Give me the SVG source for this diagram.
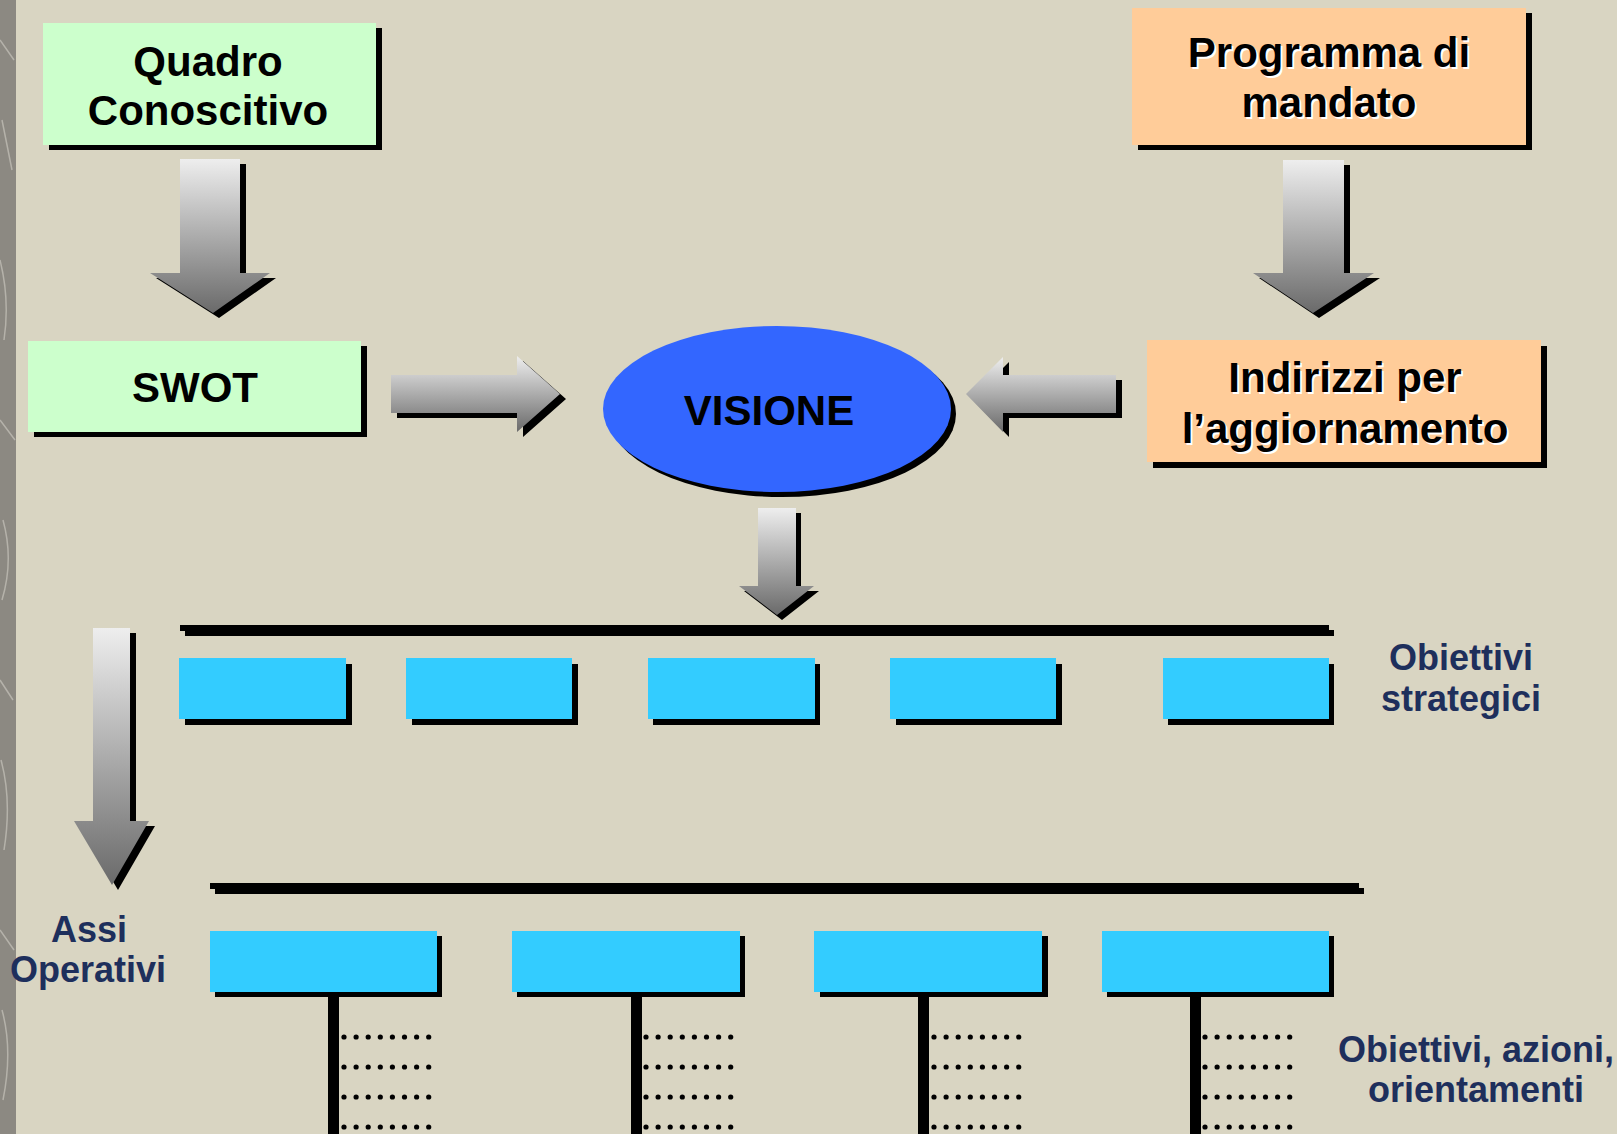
<svg xmlns="http://www.w3.org/2000/svg" xmlns:xlink="http://www.w3.org/1999/xlink" width="1617" height="1134" viewBox="0 0 1617 1134">
<style>
.bg{fill:#D9D5C2}
.sh{fill:#000}
.green{fill:#CCFFCC}
.orange{fill:#FFCC99}
.cyan{fill:#33CCFF}
.arr{fill:url(#g)}
.t{font-family:"Liberation Sans",Arial,sans-serif;font-weight:bold;text-anchor:middle}
.blk{fill:#000;font-size:42px}
.wht{fill:#fff;font-size:42px}
.navy{fill:#1E2F5C;font-size:36px}
.dot{fill:#000}
</style>
<defs>
<linearGradient id="g" x1="0" y1="0" x2="0" y2="1">
<stop offset="0" stop-color="#EEEEEE"/>
<stop offset="1" stop-color="#6A6A6A"/>
</linearGradient>
<path id="ad1" d="M180 159 H240 V273 H270 L213 313 L150 273 H180 Z"/>
<path id="ad2" d="M1283 160 H1344 V273 H1374 L1313 313 L1253 273 H1283 Z"/>
<path id="ar" d="M391 375 H517 V356 L560 394 L517 432 V413 H391 Z"/>
<path id="al" d="M1116 375 H1003 V357 L966 394 L1003 432 V413 H1116 Z"/>
<path id="ad3" d="M758 508 H796 V586 H814 L777 615 L739 586 H758 Z"/>
<path id="ad4" d="M93 628 H130 V821 H149 L112 885 L74 821 H93 Z"/>
<g id="dots">
<circle cx="0" cy="0" r="2.6"/><circle cx="12.1" cy="0" r="2.6"/><circle cx="24.2" cy="0" r="2.6"/><circle cx="36.3" cy="0" r="2.6"/><circle cx="48.4" cy="0" r="2.6"/><circle cx="60.5" cy="0" r="2.6"/><circle cx="72.6" cy="0" r="2.6"/><circle cx="84.7" cy="0" r="2.6"/>
</g>
<g id="dotblock">
<use xlink:href="#dots" y="1037"/><use xlink:href="#dots" y="1067"/><use xlink:href="#dots" y="1097"/><use xlink:href="#dots" y="1127"/>
</g>
</defs>

<rect class="bg" x="0" y="0" width="1617" height="1134"/>
<g id="stripe">
<rect x="0" y="0" width="16" height="1134" fill="#8C8982"/>
<path d="M0 40 L14 60 M2 120 L12 170 M0 260 Q10 300 4 340 M0 420 L15 440 M3 520 Q14 560 2 600 M0 680 L13 700 M1 760 Q12 800 4 850 M0 930 L14 950 M2 1010 Q13 1050 3 1100" stroke="#B5B2AA" stroke-width="1.5" fill="none"/>
</g>

<g id="connectors">
<g id="arrow-quadro-swot"><use xlink:href="#ad1" class="sh" transform="translate(6,5)"/><use xlink:href="#ad1" class="arr"/></g>
<g id="arrow-programma-indirizzi"><use xlink:href="#ad2" class="sh" transform="translate(6,5)"/><use xlink:href="#ad2" class="arr"/></g>
<g id="arrow-swot-visione"><use xlink:href="#ar" class="sh" transform="translate(6,5)"/><use xlink:href="#ar" class="arr"/></g>
<g id="arrow-indirizzi-visione"><use xlink:href="#al" class="sh" transform="translate(6,5)"/><use xlink:href="#al" class="arr"/></g>
<g id="arrow-visione-obiettivi"><use xlink:href="#ad3" class="sh" transform="translate(5,5)"/><use xlink:href="#ad3" class="arr"/></g>
<g id="arrow-assi"><use xlink:href="#ad4" class="sh" transform="translate(6,5)"/><use xlink:href="#ad4" class="arr"/></g>
<g id="bar-top"><rect class="sh" x="185" y="630" width="1149" height="6"/><rect class="sh" x="180" y="625" width="1149" height="6"/></g>
<g id="bar-bottom"><rect class="sh" x="215" y="888" width="1149" height="6"/><rect class="sh" x="210" y="883" width="1149" height="6"/></g>
<g id="stems">
<rect class="sh" x="328" y="992" width="11" height="142"/>
<rect class="sh" x="631" y="992" width="11" height="142"/>
<rect class="sh" x="918" y="992" width="11" height="142"/>
<rect class="sh" x="1190" y="992" width="11" height="142"/>
</g>
<g id="dot-rows" class="dot">
<use xlink:href="#dotblock" x="344"/>
<use xlink:href="#dotblock" x="646"/>
<use xlink:href="#dotblock" x="934"/>
<use xlink:href="#dotblock" x="1205"/>
</g>
</g>

<g id="node-quadro">
<rect class="sh" x="49" y="28" width="333" height="122"/>
<rect class="green" x="43" y="23" width="333" height="122"/>
<text class="t blk" x="208" y="76">Quadro</text>
<text class="t blk" x="208" y="125">Conoscitivo</text>
</g>
<g id="node-programma">
<rect class="sh" x="1138" y="13" width="394" height="137"/>
<rect class="orange" x="1132" y="8" width="394" height="137"/>
<text class="t wht" x="1331" y="69">Programma di</text>
<text class="t wht" x="1331" y="119">mandato</text>
<text class="t blk" x="1329" y="67">Programma di</text>
<text class="t blk" x="1329" y="117">mandato</text>
</g>
<g id="node-swot">
<rect class="sh" x="34" y="346" width="333" height="91"/>
<rect class="green" x="28" y="341" width="333" height="91"/>
<text class="t blk" x="195" y="402">SWOT</text>
</g>
<g id="node-visione">
<ellipse class="sh" cx="782" cy="414" rx="174" ry="83"/>
<ellipse cx="777" cy="409" rx="174" ry="83" fill="#3366FF"/>
<text class="t blk" x="769" y="425">VISIONE</text>
</g>
<g id="node-indirizzi">
<rect class="sh" x="1153" y="346" width="394" height="122"/>
<rect class="orange" x="1147" y="340" width="394" height="122"/>
<text class="t wht" x="1347" y="394">Indirizzi per</text>
<text class="t wht" x="1347" y="445">l’aggiornamento</text>
<text class="t blk" x="1345" y="392">Indirizzi per</text>
<text class="t blk" x="1345" y="443">l’aggiornamento</text>
</g>

<g id="node-strategici">
<rect class="sh" x="185" y="664" width="167" height="61"/><rect class="cyan" x="179" y="658" width="167" height="61"/>
<rect class="sh" x="412" y="664" width="166" height="61"/><rect class="cyan" x="406" y="658" width="166" height="61"/>
<rect class="sh" x="653" y="664" width="167" height="61"/><rect class="cyan" x="648" y="658" width="167" height="61"/>
<rect class="sh" x="896" y="664" width="166" height="61"/><rect class="cyan" x="890" y="658" width="166" height="61"/>
<rect class="sh" x="1168" y="664" width="166" height="61"/><rect class="cyan" x="1163" y="658" width="166" height="61"/>
</g>
<g id="node-assi">
<rect class="sh" x="215" y="936" width="227" height="61"/><rect class="cyan" x="210" y="931" width="227" height="61"/>
<rect class="sh" x="517" y="936" width="228" height="61"/><rect class="cyan" x="512" y="931" width="228" height="61"/>
<rect class="sh" x="820" y="936" width="228" height="61"/><rect class="cyan" x="814" y="931" width="228" height="61"/>
<rect class="sh" x="1107" y="936" width="227" height="61"/><rect class="cyan" x="1102" y="931" width="227" height="61"/>
</g>

<g id="labels">
<text class="t navy" x="1461" y="670">Obiettivi</text>
<text class="t navy" x="1461" y="711">strategici</text>
<text class="t navy" x="89" y="942">Assi</text>
<text class="t navy" x="88" y="982">Operativi</text>
<text class="t navy" x="1476" y="1062">Obiettivi, azioni,</text>
<text class="t navy" x="1476" y="1102">orientamenti</text>
</g>
</svg>
